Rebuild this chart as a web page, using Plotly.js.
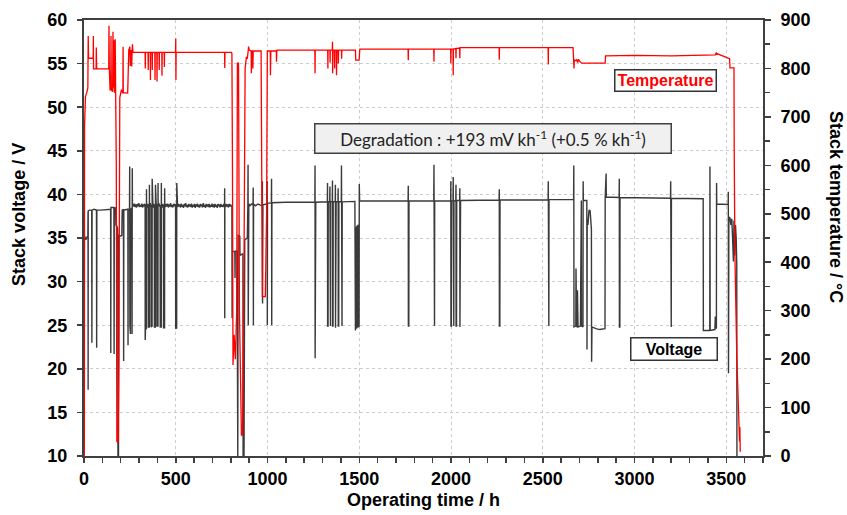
<!DOCTYPE html>
<html>
<head>
<meta charset="utf-8">
<script src="https://cdn.plot.ly/plotly-3.0.1.min.js"></script>
<style>html,body{margin:0;padding:0;background:#fff;}#chart{width:847px;height:515px;}</style>
</head>
<body>
<div id="chart"></div>
<script>
// ---- Stack voltage [hours, volts] ----
const voltageStartup = [[0,10],[0.5,11.5],[2,35.0],[3,35.2],[10,34.8],[16,35.1],[21,35.0],[22,38.0],[22.5,17.6],[23,38.1],[30,38.2],[42,38.2],[43,23.0],[44,38.2],[55,38.3],[68,38.2],[69,22.4],[70,38.2],[90,38.2],[120,38.3],[145,38.3],[146,21.8],[147,38.5],[155,38.5],[163,38.5],[164,21.7],[165,38.4],[172,38.5],[174,36.5],[180,36.3],[184,36.0],[185,10],[188,10],[190,35.3],[200,35.2],[206,35.3],[208,38.2],[215,38.3],[216,20.9],[217,38.2],[239,38.3],[240,22.7],[241,38.2],[248,38.3],[249,43.2],[250,25.0],[253,24.0],[254,38.3],[261,38.4],[262,24.0],[263,43.0],[264,38.8],[267,38.9]];
const voltagePhase1 = [[271,38.6],[275,38.95],[279,38.55],[283,38.85],[287,38.5],[291,38.9],[295,38.65],[299,39.0],[303,38.55],[307,38.8],[311,38.6],[315,38.95],[319,38.5],[323,38.85],[327,38.6],[330,38.9],[333,38.8],[333.5,23.3],[335,24.5],[340,24.6],[340.5,40.6],[341,38.8],[345,38.5],[349,38.9],[350,38.8],[350.5,24.8],[356,24.8],[356.5,41.1],[357,38.7],[361,39.0],[364,38.6],[365,38.8],[365.5,24.8],[371,24.9],[371.5,41.8],[372,38.8],[376,38.5],[380,38.9],[383,38.7],[383.5,24.8],[389,24.8],[389.5,41.1],[390,38.8],[394,38.5],[397,38.9],[397.5,24.9],[403,24.9],[403.5,41.3],[404,38.7],[408,39.0],[412,38.6],[415,38.8],[415.5,24.8],[421,24.8],[421.5,41.3],[422,38.8],[426,38.5],[430,38.9],[433,38.7],[433.5,24.7],[439,24.7],[439.5,40.7],[440,38.8],[444,38.55],[448,38.9],[452,38.6],[456,38.95],[460,38.5],[464,38.85],[468,38.6],[472,39.0],[476,38.55],[480,38.8],[484,38.5],[488,38.9],[492,38.65],[496,38.85],[499,38.8],[499.5,24.6],[505,24.7],[505.5,41.3],[506,38.8],[510,38.55],[514,38.9],[518,38.6],[522,38.85],[526,38.5],[530,38.95],[534,38.6],[538,38.8],[542,38.45],[546,38.9],[550,38.65],[554,39.0],[558,38.55],[562,38.8],[566,38.5],[570,38.9],[574,38.6],[578,38.85],[582,38.55],[586,38.95],[590,38.5],[594,38.8],[598,38.6],[602,38.9],[606,38.45],[610,38.85],[614,38.6],[618,38.95],[622,38.55],[626,38.8],[630,38.5],[634,38.9],[638,38.65],[642,38.85],[646,38.5],[650,39.0],[654,38.6],[658,38.8],[662,38.45],[666,38.9],[670,38.6],[674,38.85],[678,38.55],[682,38.9],[686,38.5],[690,38.8],[694,38.6],[698,38.95],[702,38.55],[706,38.85],[710,38.5],[714,38.9],[718,38.6],[722,38.8],[726,38.45],[730,38.9],[734,38.65],[738,38.85],[742,38.5],[746,38.9],[750,38.6],[754,38.8],[758,38.55],[762,38.9],[766,38.7],[766.5,40.7],[767,25.8],[767.5,38.8],[771,38.55],[775,38.9],[779,38.6],[783,38.85],[787,38.5],[791,38.9],[795,38.6],[799,38.85],[803,38.6],[806,38.7],[807,25.8],[808,33.5],[822,33.4],[823,30.4],[824,33.5],[834,33.5],[835,10],[838,10],[840,35.3],[849,35.2],[850,33.0],[866,33.2],[867,10],[872,10],[876,34.8],[890,35.0],[893,38.9],[894,43.4],[895,25.0],[898,38.9],[905,38.7],[913,38.9],[921,38.8],[922,40.8],[923,25.0],[924,38.9],[935,38.7],[947,38.9],[958,38.8],[971,38.7],[972,41.5],[973,27.5],[975,38.8],[997,38.9],[998,41.5],[999,25.0],[1000,39.0],[1021,39.0],[1022,41.8],[1023,25.0],[1024,39.05]];
const voltagePhase2 = [[1100,39.1],[1200,39.1],[1258,39.1],[1259,43.3],[1259.5,21.2],[1260,25.0],[1262,25.0],[1263,39.1],[1326,39.15],[1327,41.3],[1327.5,24.9],[1330,24.9],[1331,39.15],[1339,39.15],[1340,40.9],[1340.5,24.9],[1343,24.9],[1344,39.15],[1353,39.15],[1354,41.6],[1354.5,24.9],[1357,24.9],[1358,39.15],[1369,39.15],[1370,41.1],[1370.5,24.7],[1373,24.8],[1374,39.15],[1384,39.15],[1385,40.7],[1385.5,24.9],[1388,24.9],[1389,39.15],[1402,39.15],[1403,43.3],[1403.5,24.9],[1406,24.9],[1407,39.15],[1476,39.2],[1477,24.5],[1479,24.4],[1480,36.0],[1484,36.3],[1485,24.6],[1487,36.4],[1490,36.2],[1491,24.7],[1492,36.5],[1496,36.4],[1497,24.8],[1499,24.9],[1500,41.2],[1501,39.2],[1502,39.2],[1503,41.0],[1504,39.25],[1766,39.25],[1767,41.0],[1767.5,24.9],[1770,24.9],[1771,39.25],[1906,39.25],[1907,43.4],[1907.5,24.9],[1910,24.9],[1911,39.25],[1998,39.25],[1999,41.5],[1999.5,24.9],[2002,24.9],[2003,39.25],[2011,39.25],[2012,42.0],[2012.5,24.9],[2015,24.9],[2016,39.25],[2026,39.3],[2027,41.1],[2027.5,24.9],[2030,24.9],[2031,39.3],[2047,39.3],[2048,40.7],[2048.5,24.8],[2051,24.9],[2052,39.3],[2262,39.35],[2263,40.6],[2263.5,24.9],[2266,24.9],[2267,39.35],[2529,39.35],[2530,41.5],[2530.5,24.9],[2533,24.9],[2534,39.4],[2667,39.4]];
const voltagePhase3 = [[2668,39.4],[2669,43.3],[2670,24.8],[2680,24.9],[2681,31.5],[2683,31.0],[2684,24.9],[2688,24.8],[2689,29.0],[2691,28.5],[2692,24.8],[2705,24.9],[2706,39.3],[2710,39.3],[2711,24.9],[2719,24.8],[2720,41.5],[2721,39.3],[2740,39.3],[2741,22.2],[2742,37.1],[2746,36.5],[2748,37.8],[2752,38.2],[2758,38.1],[2762,37.2],[2765,36.0],[2766,20.8],[2768,24.8],[2790,24.6],[2810,24.5],[2839,24.6],[2840,39.6],[2845,42.4],[2846,39.7],[2916,39.65],[2917,41.8],[2917.5,24.8],[2920,24.8],[2921,39.65],[3050,39.6],[3196,39.55],[3197,41.5],[3197.5,24.8],[3200,24.8],[3201,39.55],[3374,39.5],[3375,24.4],[3410,24.4],[3411,43.2],[3412,24.4],[3438,24.5],[3440,26.0],[3446,24.6],[3447,41.3],[3448,38.9],[3510,38.85],[3511,40.3],[3512,19.5],[3514,37.4],[3520,37.3],[3525,36.5],[3530,37.2],[3535,34.0],[3539,32.3],[3542,37.0],[3546,33.0],[3550,36.5],[3554,35.0],[3557,32.0],[3558,10]];

// ---- Stack temperature [hours, °C] ----
const tempStartup = [[0,0],[2,10],[3,680],[8,742],[15,750],[21,760],[22,821],[23,867],[25,821],[50,821],[51,867],[52,799],[66,799],[67,843],[69,799],[135,799],[136,888],[138,800],[142,756],[146,756],[147,867],[149,756],[156,752],[158,876],[160,760],[164,858],[166,750],[170,860],[172,756],[174,740],[176,600],[179,30],[186,28],[190,200],[195,740],[204,756],[212,749],[213,845],[214,750],[238,749],[240,822],[244,838],[250,845],[252,805],[256,838],[260,804],[262,835],[264,850],[267,833]];
const tempPhase1 = [[333,833],[334,800],[335,833],[349,833],[350,797],[351,833],[361,833],[362,776],[363,833],[371,833],[372,797],[373,833],[386,833],[387,776],[388,833],[397,833],[398,773],[399,833],[409,833],[410,797],[411,833],[424,833],[425,785],[426,833],[437,833],[438,803],[439,833],[499,833],[500,862],[501,776],[502,833],[766,833],[767,801],[768,833],[804,833],[806,830],[809,600],[812,188],[818,250],[825,200],[832,300],[836,811],[842,811],[847,300],[858,43],[864,43],[872,400],[878,800],[885,824],[890,820],[897,845],[900,838],[911,836],[912,790],[914,836],[919,836],[920,800],[922,836],[965,836],[968,600],[972,329],[988,329],[995,500],[999,836],[1015,836],[1016,786],[1018,836],[1048,836],[1049,814],[1051,838]];
const tempPhase2 = [[1258,838],[1259,790],[1260,838],[1328,838],[1329,800],[1330,838],[1340,838],[1341,812],[1342,838],[1353,838],[1354,855],[1355,790],[1357,838],[1365,838],[1366,800],[1367,838],[1375,838],[1376,786],[1378,838],[1385,838],[1386,810],[1387,838],[1403,838],[1404,820],[1405,838],[1479,838],[1481,817],[1499,817],[1501,825],[1503,840],[1766,840],[1767,817],[1768,840],[1906,840],[1907,814],[1908,840],[1998,840],[1999,811],[2000,840],[2011,840],[2012,786],[2013,840],[2026,841],[2027,821],[2028,841],[2047,842],[2048,821],[2049,843],[2262,843],[2263,818],[2264,843],[2529,843],[2530,808],[2531,843],[2665,843]];
const tempPhase3 = [[2667,818],[2670,800],[2672,818],[2680,816],[2685,818],[2690,812],[2695,819],[2700,815],[2712,811],[2840,811],[2842,826],[3000,827],[3200,826],[3440,828],[3446,833],[3448,828],[3452,830],[3500,823],[3518,820],[3520,801],[3542,801],[3543,640],[3547,415],[3557,208],[3562,140],[3565,78],[3567,70],[3569,45],[3570,64],[3572,30],[3574,60],[3576,9]];

const xTickVals = [0,500,1000,1500,2000,2500,3000,3500];
const voltTickVals = [10,15,20,25,30,35,40,45,50,55,60];
const tempTickVals = [0,100,200,300,400,500,600,700,800,900];

const voltage = [].concat(voltageStartup, voltagePhase1, voltagePhase2, voltagePhase3);
const temperature = [].concat(tempStartup, tempPhase1, tempPhase2, tempPhase3);

const AX = '#404040';
const FAM = 'Liberation Sans, Arial, sans-serif';
const tickFont = {family:FAM, size:18, color:'#000', weight:700};

const traces = [
  {x: voltage.map(p=>p[0]), y: voltage.map(p=>p[1]), type:'scatter', mode:'lines',
   line:{color:'#3a3a3a', width:1.4}, yaxis:'y', hoverinfo:'skip', showlegend:false},
  {x: temperature.map(p=>p[0]), y: temperature.map(p=>p[1]), type:'scatter', mode:'lines',
   line:{color:'#ff0000', width:1.3}, yaxis:'y2', hoverinfo:'skip', showlegend:false}
];

const layout = {
  width:847, height:515,
  margin:{l:84, r:84, t:20, b:59, pad:0},
  paper_bgcolor:'#fff', plot_bgcolor:'#fff',
  showlegend:false,
  xaxis:{range:[0,3700], tickvals:xTickVals, ticks:'outside', ticklen:5, tickwidth:1.5, tickcolor:AX,
    showline:true, linecolor:AX, linewidth:2, mirror:true, zeroline:false,
    showgrid:true, gridcolor:'#cccccc', gridwidth:1, griddash:'3px,3px',
    minor:{dtick:100, tick0:0, ticks:'outside', ticklen:5, tickwidth:1.5, tickcolor:AX, showgrid:false},
    tickfont:tickFont, ticklabelstandoff:0,
    title:{text:'<b>Operating time / h</b>', font:{family:FAM, size:18, color:'#000'}, standoff:6}},
  yaxis:{range:[10,60], tickvals:voltTickVals, ticks:'outside', ticklen:5, tickwidth:1.5, tickcolor:AX,
    showline:true, linecolor:AX, linewidth:2, mirror:true, zeroline:false,
    showgrid:true, gridcolor:'#cccccc', gridwidth:1, griddash:'3px,3px',
    tickfont:tickFont, ticklabelstandoff:6},
  yaxis2:{range:[0,900], tickvals:tempTickVals, overlaying:'y', side:'right', ticks:'outside', ticklen:6, tickwidth:1.5, tickcolor:AX,
    showline:true, linecolor:AX, linewidth:2, zeroline:false, showgrid:false,
    minor:{dtick:50, tick0:0, ticks:'outside', ticklen:5, tickwidth:1.5, tickcolor:AX},
    tickfont:tickFont, ticklabelstandoff:6},
  annotations:[
    {text:'<b>Stack voltage / V</b>', xref:'paper', yref:'paper', x:-0.0957, y:0.553, xanchor:'center', yanchor:'middle', textangle:-90,
     showarrow:false, font:{family:FAM, size:18, color:'#000'}},
    {text:'<b>Stack temperature / °C</b>', xref:'paper', yref:'paper', x:1.1075, y:0.571, xanchor:'center', yanchor:'middle', textangle:90,
     showarrow:false, font:{family:FAM, size:18, color:'#000'}},
    {text:'Degradation : +193 mV kh<sup>-1</sup> (+0.5 % kh<sup>-1</sup>)', xref:'x', yref:'y', x:2231, y:46.4,
     xanchor:'center', yanchor:'middle',
     showarrow:false, font:{family:'Lato, sans-serif', size:17, color:'#222'},
     bgcolor:'#f0f0f0', bordercolor:'#404040', borderwidth:1.5, borderpad:0, width:355, height:28},
    {text:'<b>Temperature</b>', xref:'x', yref:'y', x:3166, y:53.06, xanchor:'center', yanchor:'middle',
     showarrow:false, font:{family:FAM, size:16, color:'#ff0000'},
     bgcolor:'#ffffff', bordercolor:'#333', borderwidth:1.5, borderpad:0, width:100, height:20},
    {text:'<b>Voltage</b>', xref:'x', yref:'y', x:3215, y:22.25, xanchor:'center', yanchor:'middle',
     showarrow:false, font:{family:FAM, size:16, color:'#000'},
     bgcolor:'#ffffff', bordercolor:'#333', borderwidth:1.5, borderpad:0, width:85, height:21}
  ]
};

Plotly.newPlot('chart', traces, layout, {staticPlot:true, displayModeBar:false});
</script>
</body>
</html>
